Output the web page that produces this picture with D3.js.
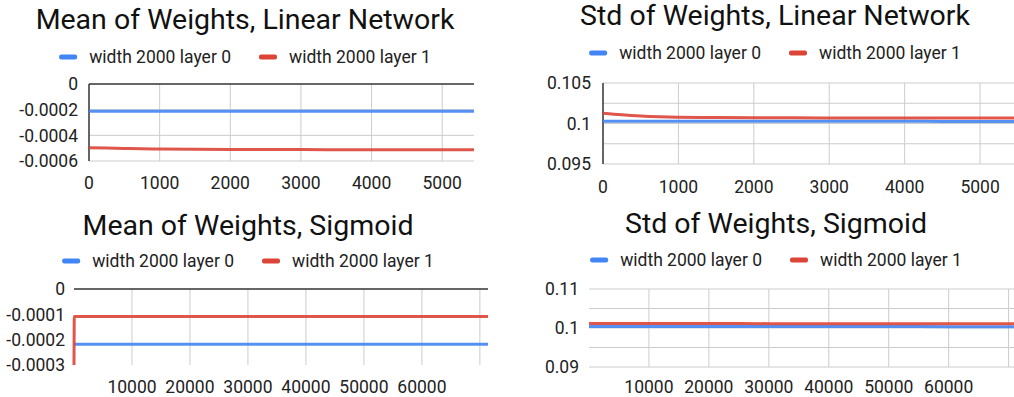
<!DOCTYPE html>
<html>
<head>
<meta charset="utf-8">
<script src="https://cdn.jsdelivr.net/npm/d3@7"></script>
<style>
  body { margin: 0; background: #fff; overflow: hidden; }
  svg { display: block; font-family: Roboto, sans-serif; }
</style>
</head>
<body>
<svg id="chart" width="1014" height="397"></svg>
<script>
// series names shared by every panel
var seriesNames = ["width 2000 layer 0", "width 2000 layer 1"];
var seriesColors = ["#4285f4", "#db4437"];

// linear network, steps 0..5450
var linSteps = [0, 250, 500, 750, 1000, 1500, 2000, 2500, 3000, 3500, 4000, 4500, 5000, 5450];
var linMeanL0 = [-0.000212, -0.000212, -0.000212, -0.000212, -0.000212, -0.000212, -0.000212, -0.000212, -0.000212, -0.000212, -0.000212, -0.000212, -0.000212, -0.000212];
var linMeanL1 = [-0.000496, -0.000499, -0.000502, -0.000505, -0.000507, -0.000509, -0.00051, -0.000511, -0.000511, -0.000512, -0.000512, -0.000512, -0.000512, -0.000512];
var linStdL0 = [0.10027, 0.10027, 0.10027, 0.10027, 0.10027, 0.10027, 0.10027, 0.10027, 0.10027, 0.10027, 0.10027, 0.10026, 0.10026, 0.10026];
var linStdL1 = [0.10128, 0.10108, 0.10093, 0.10083, 0.10077, 0.10073, 0.10071, 0.1007, 0.10069, 0.10069, 0.10068, 0.10068, 0.10068, 0.10068];

// sigmoid, steps 0..71400
var sigSteps = [0, 50, 10000, 20000, 30000, 40000, 50000, 60000, 71400];
var sigMeanL0 = [-0.000218, -0.000218, -0.000218, -0.000218, -0.000218, -0.000218, -0.000218, -0.000218, -0.000218];
var sigMeanL1 = [-0.0003, -0.000109, -0.000109, -0.000109, -0.000109, -0.000109, -0.000109, -0.000109, -0.000109];
var sigStdL0 = [0.10037, 0.10037, 0.10037, 0.10037, 0.10036, 0.10036, 0.10036, 0.10035, 0.10035];
var sigStdL1 = [0.10118, 0.10118, 0.10116, 0.10114, 0.10112, 0.10111, 0.1011, 0.1011, 0.1011];

// axis ticks
var linXTicks = [0, 1000, 2000, 3000, 4000, 5000];
var sigXTicks = [10000, 20000, 30000, 40000, 50000, 60000, 70000];
var sigXLabels = [10000, 20000, 30000, 40000, 50000, 60000];

var panels = [
  { title: "Mean of Weights, Linear Network", x: linSteps, ys: [linMeanL0, linMeanL1],
    xDomain: [0, 5450], yDomain: [-0.0006, 0], yTicks: [0, -0.0002, -0.0004, -0.0006],
    yGrid: [-0.0002, -0.0004, -0.0006], xTicks: linXTicks, xLabels: linXTicks,
    left: 89, right: 474, top: 84, bottom: 161, titleY: 29, legendY: 57, cx: 245,
    leftAxis: true, zeroLine: true, labelRight: 78, xLabelDy: 28 },
  { title: "Std of Weights, Linear Network", x: linSteps, ys: [linStdL0, linStdL1],
    xDomain: [0, 5450], yDomain: [0.095, 0.105], yTicks: [0.105, 0.1, 0.095],
    yGrid: [0.105, 0.1025, 0.1, 0.0975, 0.095], xTicks: linXTicks, xLabels: linXTicks,
    left: 603, right: 1014, top: 83, bottom: 164, titleY: 25, legendY: 53, cx: 775,
    leftAxis: true, zeroLine: false, labelRight: 591, xLabelDy: 29 },
  { title: "Mean of Weights, Sigmoid", x: sigSteps, ys: [sigMeanL0, sigMeanL1],
    xDomain: [0, 71400], yDomain: [-0.0003, 0], yTicks: [0, -0.0001, -0.0002, -0.0003],
    yGrid: [], xTicks: sigXTicks, xLabels: sigXLabels,
    left: 74, right: 488, top: 289, bottom: 365, titleY: 235, legendY: 261, cx: 248,
    leftAxis: false, zeroLine: true, labelRight: 65, xLabelDy: 28 },
  { title: "Std of Weights, Sigmoid", x: sigSteps, ys: [sigStdL0, sigStdL1],
    xDomain: [0, 71400], yDomain: [0.09, 0.11], yTicks: [0.11, 0.1, 0.09],
    yGrid: [0.11, 0.105, 0.1, 0.095, 0.09], xTicks: sigXTicks, xLabels: sigXLabels,
    left: 589, right: 1017, top: 289, bottom: 367, titleY: 233, legendY: 260, cx: 776,
    leftAxis: false, zeroLine: false, labelRight: 579, xLabelDy: 26 }
];

var svg = d3.select("#chart");
var fmt = function (v) { return String(+v.toPrecision(6)); };

function drawPanel(p, i) {
  var g = svg.append("g");
  var x = d3.scaleLinear().domain(p.xDomain).range([p.left, p.right]);
  var y = d3.scaleLinear().domain(p.yDomain).range([p.bottom, p.top]);

  g.append("clipPath").attr("id", "clip" + i)
    .append("rect")
    .attr("x", p.left - 2).attr("y", p.top - 2)
    .attr("width", p.right - p.left + 4).attr("height", p.bottom - p.top + 4);

  // horizontal grid
  g.selectAll(".hgrid").data(p.yGrid).enter().append("line")
    .attr("x1", p.left).attr("x2", p.right)
    .attr("y1", function (d) { return y(d); }).attr("y2", function (d) { return y(d); })
    .attr("stroke", "#cccccc").attr("stroke-width", 1);

  // vertical grid
  g.selectAll(".vgrid").data(p.xTicks.filter(function (d) { return d > p.xDomain[0]; })).enter().append("line")
    .attr("x1", function (d) { return x(d); }).attr("x2", function (d) { return x(d); })
    .attr("y1", p.top).attr("y2", p.bottom)
    .attr("stroke", "#cccccc").attr("stroke-width", 1);

  if (p.zeroLine) {
    g.append("line").attr("x1", p.left).attr("x2", p.right)
      .attr("y1", y(0)).attr("y2", y(0))
      .attr("stroke", "#333333").attr("stroke-width", 1.3);
  }
  if (p.leftAxis) {
    g.append("line").attr("x1", p.left).attr("x2", p.left)
      .attr("y1", p.top).attr("y2", p.bottom)
      .attr("stroke", "#333333").attr("stroke-width", 1.5);
  }

  // y labels
  g.selectAll(".ylab").data(p.yTicks).enter().append("text")
    .attr("x", p.labelRight).attr("y", function (d) { return y(d); })
    .attr("dy", "0.36em").attr("text-anchor", "end")
    .attr("font-size", 17.5).attr("fill", "#222222")
    .text(fmt);

  // x labels
  g.selectAll(".xlab").data(p.xLabels).enter().append("text")
    .attr("x", function (d) { return x(d); }).attr("y", p.bottom + p.xLabelDy)
    .attr("text-anchor", "middle")
    .attr("font-size", 17.5).attr("fill", "#222222")
    .text(function (d) { return String(d); });

  // series lines
  var line = d3.line()
    .x(function (d, k) { return x(p.x[k]); })
    .y(function (d) { return y(d); })
    .curve(d3.curveMonotoneX);
  var lines = g.append("g").attr("clip-path", "url(#clip" + i + ")");
  p.ys.forEach(function (vals, s) {
    lines.append("path").datum(vals)
      .attr("d", line)
      .attr("fill", "none")
      .attr("stroke", seriesColors[s])
      .attr("stroke-width", 3)
      .attr("stroke-opacity", 0.9);
  });

  // title
  g.append("text").attr("x", p.cx).attr("y", p.titleY)
    .attr("text-anchor", "middle").attr("font-size", 28.5).attr("fill", "#111111")
    .text(p.title);

  // legend, centred under title
  var leg = g.append("g");
  var off = 0;
  seriesNames.forEach(function (name, s) {
    if (s > 0) off += 28;
    leg.append("rect").attr("x", off).attr("y", p.legendY - 2.5)
      .attr("width", 18).attr("height", 5).attr("rx", 2)
      .attr("fill", seriesColors[s]);
    var t = leg.append("text").attr("x", off + 30).attr("y", p.legendY)
      .attr("dy", "0.35em").attr("font-size", 17.5).attr("fill", "#222222")
      .text(name);
    off += 30 + t.node().getComputedTextLength();
  });
  leg.attr("transform", "translate(" + (p.cx - off / 2) + ",0)");
}

panels.forEach(drawPanel);
</script>
</body>
</html>
